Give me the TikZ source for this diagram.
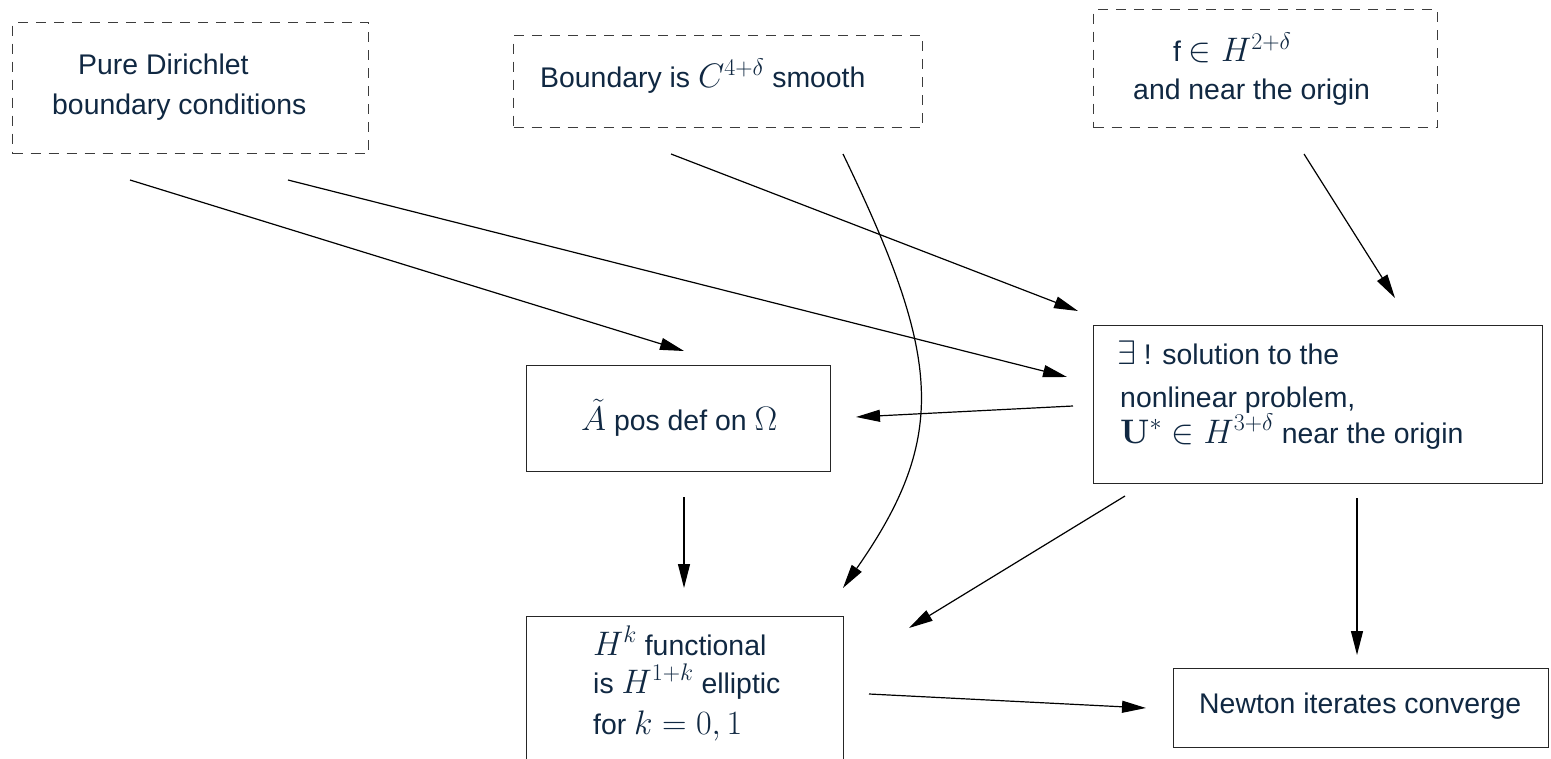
\RequirePackage{fix-cm}
\documentclass[tikz,border=0pt]{standalone}
\usepackage[no-math]{fontspec}
\setmainfont{Liberation Sans}
\usetikzlibrary{arrows.meta}
\DeclareMathSizes{28.4}{34}{24}{18}
\definecolor{ink}{RGB}{16,40,66}
\definecolor{frame}{RGB}{60,60,60}
\begin{document}
\begin{tikzpicture}[x=1pt,y=-1pt,
  dbox/.style={draw=frame,line width=1.1pt,dash pattern=on 10pt off 8pt,rectangle,inner sep=0pt,anchor=north west},
  sbox/.style={draw=black!85,line width=1.4pt,rectangle,inner sep=0pt,anchor=north west},
  txt/.style={anchor=base west,inner sep=0pt,text=ink,font=\fontsize{28.4}{34}\selectfont},
  link/.style={line width=1.2pt,-{Triangle[length=24pt,width=12pt]}}]
\clip (0,0) rectangle (1551,759);
\fill[white] (0,0) rectangle (1551,759);

% dashed premises
\node[dbox,minimum width=356pt,minimum height=131pt] (dir) at (12,22) {};
\node[dbox,minimum width=409pt,minimum height=92pt] (bdy) at (513,35) {};
\node[dbox,minimum width=344pt,minimum height=118pt] (src) at (1093,9) {};

% solid conclusions
\node[sbox,minimum width=304pt,minimum height=106pt] (pos) at (526,365) {};
\node[sbox,minimum width=449pt,minimum height=158pt] (uniq) at (1093,325) {};
\node[sbox,minimum width=317pt,minimum height=170pt] (ell) at (526,616) {};
\node[sbox,minimum width=375pt,minimum height=79pt] (newt) at (1173,668) {};

% texts
\node[txt] (t1a) at (78,75) {Pure Dirichlet};
\node[txt] (t1b) at (52,115) {boundary conditions};
\node[txt] (t2) at (540,88) {Boundary is $C^{4+\delta}$ smooth};
\node[txt] (t3a) at (1173,62) {f $\in H^{2+\delta}$};
\node[txt] (t3b) at (1133,100) {and near the origin};
\node[txt] (t4) at (581,430) {$\tilde{A}$ pos def on $\Omega$};
\node[txt] (t5a) at (1117,365) {$\exists$ ! solution to the};
\node[txt] (t5b) at (1120,407) {nonlinear problem,};
\node[txt] (t5c) at (1120,443) {$\mathbf{U}^{*}\in H^{3+\delta}$ near the origin};
\node[txt] (t6a) at (593,655) {$H^{k}$ functional};
\node[txt] (t6b) at (593,693) {is $H^{1+k}$ elliptic};
\node[txt] (t6c) at (593,734) {for $k=0,1$};
\node[txt] (t7) at (1199,713) {Newton iterates converge};

% connector end points
\coordinate (a1s) at (130,180);  \coordinate (a1e) at (684,351);
\coordinate (a2s) at (288,180);  \coordinate (a2e) at (1067,377);
\coordinate (a3s) at (671,154);  \coordinate (a3e) at (1078,311);
\coordinate (a4s) at (843,154);  \coordinate (a4e) at (843,588);
\coordinate (a5s) at (1304,154); \coordinate (a5e) at (1395,298);
\coordinate (a6s) at (1073,406); \coordinate (a6e) at (856,417);
\coordinate (a7s) at (684,497);  \coordinate (a7e) at (684,588);
\coordinate (a8s) at (1125,496); \coordinate (a8e) at (909,628);
\coordinate (a9s) at (1357,498); \coordinate (a9e) at (1357,655);
\coordinate (a10s) at (869,694); \coordinate (a10e) at (1146,708);

% connectors
\draw[link] (a1s) -- (a1e);
\draw[link] (a2s) -- (a2e);
\draw[link] (a3s) -- (a3e);
\draw[link] (a4s) .. controls (940,355) and (950,435) .. (a4e);
\draw[link] (a5s) -- (a5e);
\draw[link] (a6s) -- (a6e);
\draw[link] (a7s) -- (a7e);
\draw[link] (a8s) -- (a8e);
\draw[link] (a9s) -- (a9e);
\draw[link] (a10s) -- (a10e);
\end{tikzpicture}
\end{document}
